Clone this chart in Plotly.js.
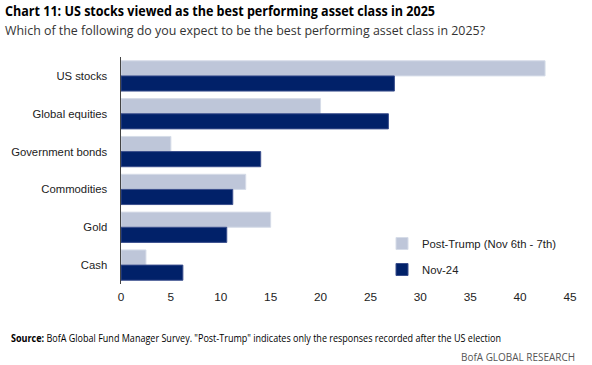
<!DOCTYPE html>
<html>
<head>
<meta charset="utf-8">
<script src="https://cdn.plot.ly/plotly-3.0.1.min.js"></script>
<style>html,body{margin:0;padding:0;background:#fff;}#chart{width:592px;height:365px;}</style>
</head>
<body>
<div id="chart"></div>
<script>
const categories = ["US stocks", "Global equities", "Government bonds", "Commodities", "Gold", "Cash"];
const postTrump = [42.5, 20.0, 5.0, 12.5, 15.0, 2.5];
const nov24 = [27.4, 26.8, 14.0, 11.2, 10.6, 6.2];
const xTicks = [0, 5, 10, 15, 20, 25, 30, 35, 40, 45];
const seriesNames = ["Post-Trump (Nov 6th - 7th)", "Nov-24"];

const L = 121, R = 570, T = 57, B = 284;
const px = x => (x - L) / (R - L);
const py = y => (B - y) / (B - T);

const traces = [
  {type: "bar", orientation: "h", name: seriesNames[0], y: categories, x: postTrump,
   marker: {color: "#BEC6D9", line: {color: "#D6DCE8", width: 1}}, legendgroup: "a"},
  {type: "bar", orientation: "h", name: seriesNames[1], y: categories, x: nov24,
   marker: {color: "#012169", line: {color: "#3A4E8C", width: 1}}, legendgroup: "b"}
];

// text annotations: [text, left x px, center y px, target width px, font]
const textSpecs = [
  ["<b>Chart 11: US stocks viewed as the best performing asset class in 2025</b>", 3, 11, 430,
   {family: "Open Sans, sans-serif", size: 14.5, color: "#000"}],
  ["Which of the following do you expect to be the best performing asset class in 2025?", 3, 30, 480,
   {family: "Open Sans, sans-serif", size: 13.5, color: "#333"}],
  ["<b>Source:</b> BofA Global Fund Manager Survey. \"Post-Trump\" indicates only the responses recorded after the US election", 9, 338, 490,
   {family: "Open Sans, sans-serif", size: 10, color: "#000"}],
  ["BofA GLOBAL RESEARCH", 459, 357, 114,
   {family: "Open Sans, sans-serif", size: 10, color: "#555"}]
];

const layout = {
  width: 592, height: 365,
  margin: {l: L, r: 592 - R, t: T, b: 365 - B, pad: 0},
  paper_bgcolor: "#fff", plot_bgcolor: "#fff",
  barmode: "group", bargap: 0.2, bargroupgap: 0,
  font: {family: "Liberation Sans, Arial, sans-serif", size: 12, color: "#222"},
  showlegend: true,
  legend: {x: px(382), y: py(229), xanchor: "left", yanchor: "top", traceorder: "grouped",
           tracegroupgap: 7, font: {size: 11.3, color: "#222"}, bgcolor: "rgba(0,0,0,0)",
           itemwidth: 30},
  xaxis: {range: [0, 45], tickvals: xTicks, ticktext: xTicks.map(String), showgrid: false,
          zeroline: false, showline: false, ticks: "", ticklabelstandoff: 4,
          tickfont: {size: 11.8, color: "#222"}, fixedrange: true},
  yaxis: {type: "category", categoryorder: "array", categoryarray: categories, autorange: "reversed",
          showgrid: false, zeroline: false, showline: true, linecolor: "#444", linewidth: 1.5,
          ticks: "", ticklabelstandoff: 10, tickfont: {size: 11.3, color: "#222"}, fixedrange: true},
  annotations: textSpecs.map(s => ({
    text: s[0], xref: "paper", yref: "paper", x: px(s[1]), y: py(s[2]),
    xanchor: "left", yanchor: "middle", showarrow: false, font: s[4]
  }))
};

Plotly.newPlot("chart", traces, layout, {displayModeBar: false, staticPlot: true}).then(gd => {
  const texts = gd.querySelectorAll("g.annotation text.annotation-text");
  texts.forEach((t, i) => {
    const spec = textSpecs[i];
    if (!spec) return;
    const bb = t.getBBox();
    t.setAttribute("text-anchor", "start");
    t.setAttribute("x", bb.x);
    t.setAttribute("textLength", spec[3]);
    t.setAttribute("lengthAdjust", "spacingAndGlyphs");
  });
});
</script>
</body>
</html>
